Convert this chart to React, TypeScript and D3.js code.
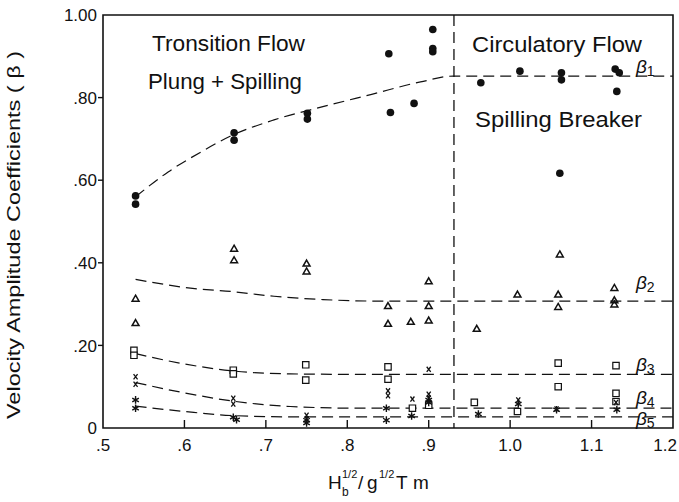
import React from 'react';
import * as d3 from 'd3';

type Pt = [number, number];

// axis ticks
const xTickValues = [0.5, 0.6, 0.7, 0.8, 0.9, 1.0, 1.1, 1.2];
const xTickLabels = ['.5', '.6', '.7', '.8', '.9', '1.0', '1.1', '1.2'];
const yTickValues = [0, 0.2, 0.4, 0.6, 0.8, 1.0];
const yTickLabels = ['0', '.20', '.40', '.60', '.80', '1.00'];

// boundary between transition and circulatory flow
const regimeLimit = 0.931;

// measured points
const beta1Points: Pt[] = [
  [0.54, 0.562], [0.54, 0.542], [0.661, 0.715], [0.661, 0.697], [0.751, 0.762], [0.751, 0.748],
  [0.851, 0.906], [0.853, 0.764], [0.882, 0.786], [0.905, 0.965], [0.905, 0.919], [0.905, 0.911],
  [0.964, 0.836], [1.012, 0.864], [1.063, 0.86], [1.063, 0.843], [1.061, 0.617],
  [1.129, 0.869], [1.134, 0.86], [1.131, 0.815],
];
const beta2Points: Pt[] = [
  [0.54, 0.312], [0.54, 0.253], [0.661, 0.433], [0.661, 0.405], [0.75, 0.397], [0.75, 0.378],
  [0.85, 0.294], [0.85, 0.251], [0.878, 0.256], [0.9, 0.354], [0.9, 0.294], [0.9, 0.259],
  [0.959, 0.239], [1.009, 0.322], [1.061, 0.419], [1.059, 0.322], [1.059, 0.292],
  [1.128, 0.338], [1.128, 0.308], [1.128, 0.298],
];
const beta3Points: Pt[] = [
  [0.538, 0.188], [0.538, 0.176], [0.66, 0.14], [0.66, 0.131], [0.749, 0.153], [0.749, 0.116],
  [0.85, 0.148], [0.85, 0.118], [0.88, 0.048], [0.9, 0.055], [0.956, 0.062], [1.009, 0.04],
  [1.059, 0.157], [1.059, 0.1], [1.13, 0.151], [1.13, 0.084], [1.13, 0.064],
];
const beta4Points: Pt[] = [
  [0.54, 0.124], [0.54, 0.106], [0.66, 0.072], [0.66, 0.058], [0.75, 0.031], [0.75, 0.022],
  [0.85, 0.09], [0.85, 0.078], [0.88, 0.07], [0.9, 0.142], [0.9, 0.082], [0.9, 0.072],
  [1.01, 0.068], [1.057, 0.046], [1.13, 0.062],
];
const beta5Points: Pt[] = [
  [0.54, 0.068], [0.54, 0.048], [0.66, 0.026], [0.664, 0.02], [0.75, 0.019], [0.75, 0.012],
  [0.848, 0.048], [0.848, 0.019], [0.879, 0.029], [0.9, 0.068], [0.9, 0.062],
  [0.961, 0.034], [1.01, 0.058], [1.057, 0.044], [1.131, 0.044],
];

// fitted (dashed) curves
const beta1Curve: Pt[] = [
  [0.54, 0.56], [0.58, 0.62], [0.62, 0.668], [0.66, 0.71], [0.71, 0.746], [0.77, 0.778],
  [0.83, 0.808], [0.89, 0.838], [0.93, 0.852], [1.2, 0.852],
];
const beta2Curve: Pt[] = [
  [0.54, 0.36], [0.61, 0.338], [0.66, 0.33], [0.71, 0.319], [0.77, 0.311], [0.85, 0.307], [1.2, 0.307],
];
const beta3Curve: Pt[] = [
  [0.54, 0.18], [0.6, 0.155], [0.66, 0.138], [0.73, 0.131], [0.8, 0.13], [1.2, 0.13],
];
const beta4Curve: Pt[] = [
  [0.54, 0.11], [0.6, 0.085], [0.66, 0.065], [0.73, 0.052], [0.81, 0.048], [1.2, 0.048],
];
const beta5Curve: Pt[] = [
  [0.54, 0.053], [0.6, 0.04], [0.66, 0.03], [0.73, 0.027], [1.2, 0.027],
];

const curveLabels = [
  { sub: '1', y: 0.852 },
  { sub: '2', y: 0.307 },
  { sub: '3', y: 0.13 },
  { sub: '4', y: 0.048 },
  { sub: '5', y: 0.027 },
];

const FONT = '"Liberation Sans", Arial, sans-serif';
const INK = '#111';

export default function App() {
  const width = 679;
  const height = 502;
  const left = 103, right = 673, top = 15, bottom = 428;

  const x = d3.scaleLinear().domain([0.5, 1.2]).range([left, right]);
  const y = d3.scaleLinear().domain([0, 1]).range([bottom, top]);

  const line = d3.line<Pt>().x((d) => x(d[0])).y((d) => y(d[1])).curve(d3.curveMonotoneX);

  const tri = d3.symbol(d3.symbolTriangle2, 34)()!;
  const sq = d3.symbol(d3.symbolSquare2, 52)()!;
  const star = d3.symbol(d3.symbolAsterisk, 40)()!;
  const cross = 'M-2,-2.6L2,2.6M2,-2.6L-2,2.6';

  // label offsets (px) for beta labels
  const labelDy = [-3, -12, -3, -4, 8];

  return (
    <svg width={width} height={height} style={{ position: 'absolute', left: 0, top: 0, background: '#fff' }}
      fontFamily={FONT}>
      <rect width={width} height={height} fill="#fff" />

      {/* frame */}
      <path d={`M${left},${top}H${right}V${bottom}H${left}Z`} fill="none" stroke={INK} strokeWidth={1.6} />

      {/* y ticks */}
      {yTickValues.map((v, i) => (
        <g key={`yt${i}`}>
          {v > 0 && v < 1 && <line x1={left - 5} x2={left} y1={y(v)} y2={y(v)} stroke={INK} strokeWidth={1.4} />}
          <text x={left - 6} y={y(v)} dy="0.36em" textAnchor="end" fontSize={17} fill={INK}>{yTickLabels[i]}</text>
        </g>
      ))}

      {/* x ticks */}
      {xTickValues.map((v, i) => {
        const last = i === xTickValues.length - 1;
        return (
          <g key={`xt${i}`}>
            {v > 0.5 && v < 1.2 && <line x1={x(v)} x2={x(v)} y1={bottom} y2={bottom - 8} stroke={INK} strokeWidth={1.4} />}
            <text x={last ? x(v) + 4 : x(v)} y={bottom + 23} textAnchor={last ? 'end' : 'middle'} fontSize={17}
              fill={INK}>{xTickLabels[i]}</text>
          </g>
        );
      })}

      {/* regime boundary */}
      <line x1={x(regimeLimit)} x2={x(regimeLimit)} y1={top} y2={bottom} stroke={INK} strokeWidth={1.3}
        strokeDasharray="11 6" />

      {/* fitted curves */}
      {[beta1Curve, beta2Curve, beta3Curve, beta4Curve, beta5Curve].map((c, i) => (
        <path key={`c${i}`} d={line(c)!} fill="none" stroke={INK} strokeWidth={1.2} strokeDasharray="11 6" />
      ))}

      {/* markers */}
      {beta1Points.map((d, i) => (
        <circle key={`b1${i}`} cx={x(d[0])} cy={y(d[1])} r={3.8} fill={INK} />
      ))}
      {beta2Points.map((d, i) => (
        <path key={`b2${i}`} d={tri} transform={`translate(${x(d[0])},${y(d[1])})`} fill="none" stroke={INK} strokeWidth={1.5} />
      ))}
      {beta3Points.map((d, i) => (
        <path key={`b3${i}`} d={sq} transform={`translate(${x(d[0])},${y(d[1])})`} fill="#fff" stroke={INK} strokeWidth={1.2} />
      ))}
      {beta4Points.map((d, i) => (
        <path key={`b4${i}`} d={cross} transform={`translate(${x(d[0])},${y(d[1])})`} fill="none" stroke={INK} strokeWidth={1.3} />
      ))}
      {beta5Points.map((d, i) => (
        <path key={`b5${i}`} d={star} transform={`translate(${x(d[0])},${y(d[1])})`} fill="none" stroke={INK} strokeWidth={1.4} />
      ))}

      {/* beta labels */}
      {curveLabels.map((l, i) => (
        <text key={`bl${i}`} x={x(1.2) - 37} y={y(l.y) + labelDy[i]} fontSize={19} fontStyle="italic" fill={INK}>
          β<tspan fontSize={14} fontStyle="normal" dy={3}>{l.sub}</tspan>
        </text>
      ))}

      {/* region annotations */}
      <text x={152} y={51} fontSize={22} textLength={153} lengthAdjust="spacingAndGlyphs" fill={INK}>Tronsition  Flow</text>
      <text x={148} y={89} fontSize={22} textLength={154} lengthAdjust="spacingAndGlyphs" fill={INK}>Plung + Spilling</text>
      <text x={472} y={52} fontSize={22} textLength={170} lengthAdjust="spacingAndGlyphs" fill={INK}>Circulatory  Flow</text>
      <text x={475} y={127} fontSize={22} textLength={167} lengthAdjust="spacingAndGlyphs" fill={INK}>Spilling  Breaker</text>

      {/* axis titles */}
      <text transform="translate(20,235) rotate(-90)" textAnchor="middle" fontSize={18} textLength={368}
        lengthAdjust="spacingAndGlyphs" fill={INK}>Velocity Amplitude Coefficients ( β )</text>

      <g fill={INK}>
        <text x={328} y={489} fontSize={19}>H</text>
        <text x={342} y={478} fontSize={11}>1/2</text>
        <text x={342} y={496} fontSize={12}>b</text>
        <text x={358} y={489} fontSize={19}>/</text>
        <text x={367} y={489} fontSize={19}>g</text>
        <text x={379} y={478} fontSize={11}>1/2</text>
        <text x={396} y={489} fontSize={19}>T</text>
        <text x={413} y={489} fontSize={19}>m</text>
      </g>
    </svg>
  );
}
